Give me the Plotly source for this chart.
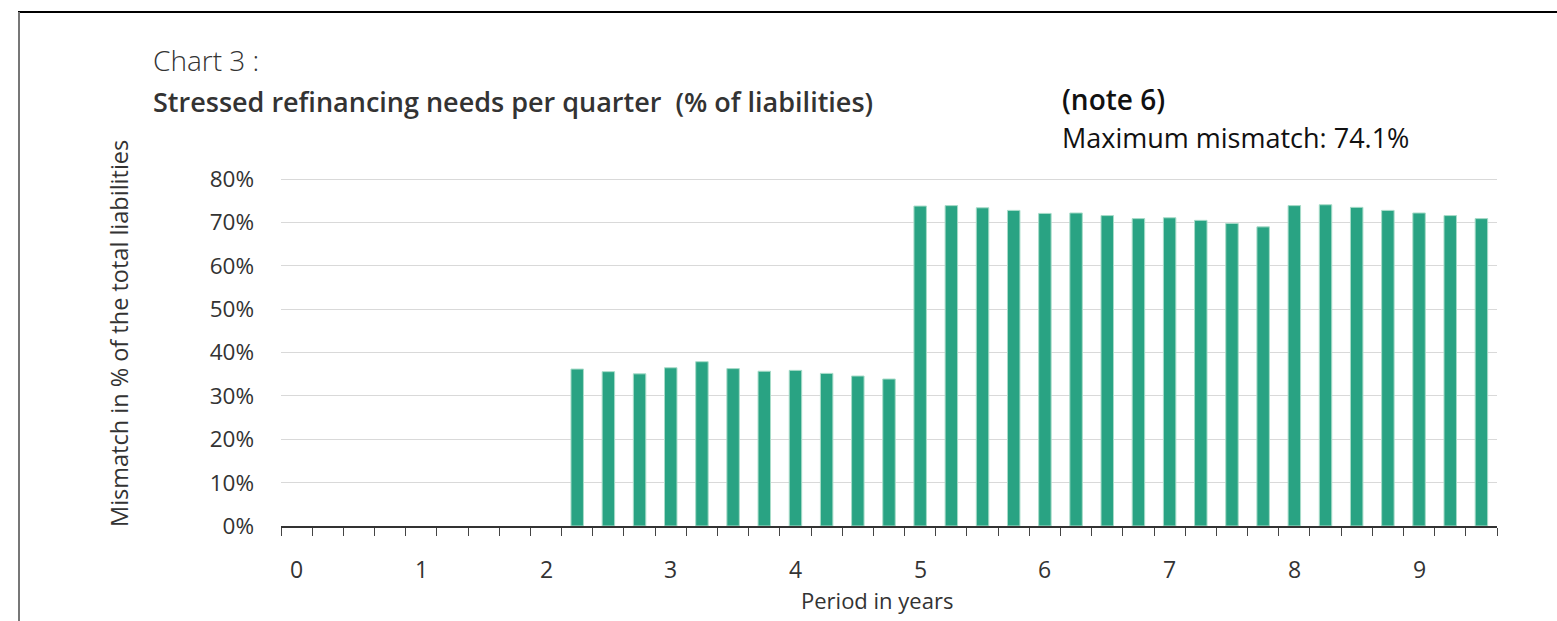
import plotly.graph_objects as go

# Quarterly periods (years) and stressed refinancing needs (% of total liabilities)
periods = [0.0, 0.25, 0.5, 0.75, 1.0, 1.25, 1.5, 1.75, 2.0, 2.25, 2.5, 2.75,
           3.0, 3.25, 3.5, 3.75, 4.0, 4.25, 4.5, 4.75, 5.0, 5.25, 5.5, 5.75,
           6.0, 6.25, 6.5, 6.75, 7.0, 7.25, 7.5, 7.75, 8.0, 8.25, 8.5, 8.75,
           9.0, 9.25, 9.5]
mismatch = [0, 0, 0, 0, 0, 0, 0, 0, 0,
            36.2, 35.6, 35.1, 36.5, 37.9, 36.3, 35.7, 35.9, 35.2, 34.6, 33.9,
            73.8, 73.9, 73.4, 72.8, 72.1, 72.2, 71.6, 70.9, 71.1, 70.5, 69.8,
            69.0, 73.9, 74.1, 73.5, 72.8, 72.2, 71.6, 70.9]
year_ticks = [0, 1, 2, 3, 4, 5, 6, 7, 8, 9]
pct_ticks = [0, 10, 20, 30, 40, 50, 60, 70, 80]
pct_labels = [f"{v}%" for v in pct_ticks]

FONT = "Open Sans"
TXT = "#333333"

# no outline on empty quarters
edge_widths = [1 if v > 0 else 0 for v in mismatch]

fig = go.Figure(go.Bar(
    x=periods, y=mismatch, width=0.1,
    marker=dict(color="#29a383", line=dict(color="#a8dcc9", width=edge_widths)),
    hoverinfo="x+y",
))

L, R, T, B = 281, 60, 177, 95
W, H = 1557, 621
pw, ph = W - L - R, H - T - B

def px(x):
    return (x - L) / pw

def py(y):
    return (H - B - y) / ph

fig.update_layout(
    width=W, height=H,
    margin=dict(l=L, r=R, t=T, b=B),
    paper_bgcolor="white", plot_bgcolor="white",
    showlegend=False,
    font=dict(family=FONT, color=TXT, size=20),
    xaxis=dict(
        range=[-0.125, 9.625],
        tickmode="array", tickvals=year_ticks,
        ticks="", showticklabels=False,
        showgrid=False, zeroline=False,
        showline=True, linecolor="#333333", linewidth=1.5,
        minor=dict(tick0=-0.125, dtick=0.25, ticks="outside",
                   ticklen=8, tickwidth=1.2, tickcolor="#444444", showgrid=False),
        fixedrange=True,
    ),
    yaxis=dict(
        range=[0, 80.5],
        tickmode="array", tickvals=pct_ticks, ticktext=pct_labels,
        ticks="", tickfont=dict(size=22.5, color=TXT),
        ticklabelstandoff=26,
        showgrid=True, gridcolor="#d9d9d9", gridwidth=1,
        zeroline=False, showline=False,
        fixedrange=True,
    ),
    bargap=0.6,
)

annotations = [
    dict(text="Chart 3 :", x=px(151), y=py(60), xanchor="left", yanchor="middle",
         font=dict(size=28, color=TXT, family=FONT, weight=300)),
    dict(text="Stressed refinancing needs per quarter  (% of liabilities)",
         x=px(151), y=py(101), xanchor="left", yanchor="middle",
         font=dict(size=27, color=TXT, family=FONT, weight=600)),
    dict(text="(note 6)", x=px(1060), y=py(99), xanchor="left", yanchor="middle",
         font=dict(size=28, color="#111111", family=FONT, weight=600)),
    dict(text="Maximum mismatch: 74.1%", x=px(1060), y=py(137),
         xanchor="left", yanchor="middle",
         font=dict(size=27, color="#111111", family=FONT)),
    dict(text="Mismatch in % of the total liabilities", x=px(119), y=py(334),
         xanchor="center", yanchor="middle", textangle=-90,
         font=dict(size=23.5, color=TXT, family=FONT)),
    dict(text="Period in years", x=px(877), y=py(600),
         xanchor="center", yanchor="middle",
         font=dict(size=22, color=TXT, family=FONT)),
]
for a in annotations:
    a.update(xref="paper", yref="paper", showarrow=False)

# year labels under the axis, placed on the data x scale
for yr in year_ticks:
    annotations.append(dict(text=str(yr), x=yr, xref="x", y=py(569), yref="paper",
                            xanchor="center", yanchor="middle", showarrow=False,
                            font=dict(size=23, color=TXT, family=FONT)))
fig.update_layout(annotations=annotations)

# Frame lines along the top and left edges of the page
fig.add_shape(type="line", xref="paper", yref="paper",
              x0=px(18), x1=px(W), y0=py(12), y1=py(12),
              line=dict(color="#000000", width=2))
fig.add_shape(type="line", xref="paper", yref="paper",
              x0=px(19), x1=px(19), y0=py(12), y1=py(H),
              line=dict(color="#777777", width=2))

fig.write_html("out.html")
